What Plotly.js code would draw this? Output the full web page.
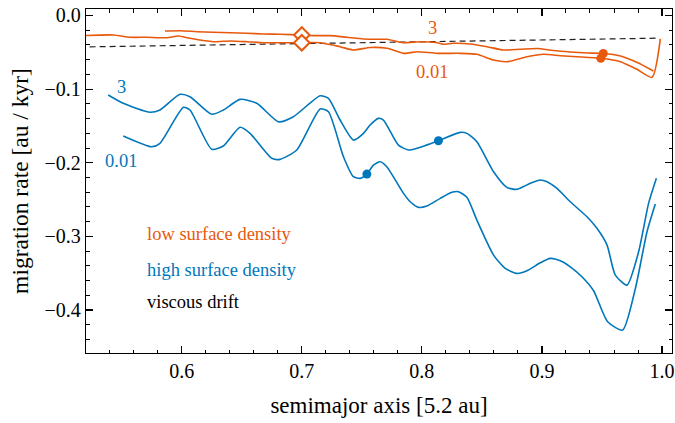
<!DOCTYPE html>
<html>
<head>
<meta charset="utf-8">
<script src="https://cdn.plot.ly/plotly-3.0.1.min.js"></script>
<style>
  html, body { margin: 0; padding: 0; background: #fff; }
  #chart { width: 675px; height: 423px; }
</style>
</head>
<body>
<div id="chart"></div>
<script>
// Planet migration rate versus semimajor axis, two disc models and the viscous drift.

// low surface density, viscosity 3
const lowHighX = [0.5861, 0.5986, 0.6125, 0.6263, 0.6403, 0.6542, 0.6680, 0.6819, 0.7000, 0.7097,
  0.7236, 0.7375, 0.7514, 0.7653, 0.7711, 0.7844, 0.7986, 0.8128, 0.8178, 0.8261, 0.8403, 0.8544,
  0.8678, 0.8819, 0.8961, 0.9094, 0.9236, 0.9378, 0.9511, 0.9653, 0.9794, 0.9928];
const lowHighY = [-0.0211, -0.0207, -0.0220, -0.0228, -0.0234, -0.0242, -0.0251, -0.0255, -0.0265, -0.0274,
  -0.0274, -0.0296, -0.0319, -0.0323, -0.0323, -0.0370, -0.0356, -0.0370, -0.0391, -0.0378, -0.0387, -0.0424,
  -0.0469, -0.0459, -0.0448, -0.0476, -0.0496, -0.0510, -0.0516, -0.0550, -0.0639, -0.0754];

// low surface density, viscosity 0.01
const lowLowX = [0.5150, 0.5431, 0.5569, 0.5708, 0.5875, 0.5972, 0.6069, 0.6263, 0.6403, 0.6542,
  0.6680, 0.6819, 0.7000, 0.7153, 0.7319, 0.7430, 0.7569, 0.7711, 0.7844, 0.7903, 0.7961, 0.8128,
  0.8319, 0.8458, 0.8597, 0.8708, 0.8875, 0.9014, 0.9153, 0.9292, 0.9490, 0.9653, 0.9792, 0.9917, 0.9986];
const lowLowY = [-0.0276, -0.0265, -0.0296, -0.0296, -0.0302, -0.0279, -0.0310, -0.0356, -0.0346, -0.0356,
  -0.0370, -0.0370, -0.0370, -0.0370, -0.0424, -0.0469, -0.0435, -0.0446, -0.0514, -0.0505, -0.0492, -0.0514,
  -0.0514, -0.0527, -0.0605, -0.0628, -0.0560, -0.0527, -0.0546, -0.0560, -0.0582, -0.0628, -0.0731, -0.0840, -0.0319];

// high surface density, viscosity 3
const highHighX = [0.5388, 0.5513, 0.5736, 0.5819, 0.5986, 0.6069, 0.6250, 0.6347, 0.6486, 0.6625,
  0.6805, 0.6930, 0.7153, 0.7222, 0.7319, 0.7430, 0.7514, 0.7569, 0.7638, 0.7680, 0.7805, 0.7888,
  0.7958, 0.8138, 0.8319, 0.8375, 0.8458, 0.8597, 0.8708, 0.8792, 0.8903, 0.8986, 0.9042, 0.9125,
  0.9236, 0.9375, 0.9458, 0.9542, 0.9611, 0.9708, 0.9805, 0.9888, 0.9953];
const highHighY = [-0.1080, -0.1193, -0.1315, -0.1284, -0.1071, -0.1103, -0.1342, -0.1284, -0.1139, -0.1193,
  -0.1443, -0.1375, -0.1090, -0.1125, -0.1420, -0.1692, -0.1601, -0.1488, -0.1397, -0.1420, -0.1760, -0.1827,
  -0.1804, -0.1701, -0.1587, -0.1601, -0.1715, -0.2122, -0.2334, -0.2361, -0.2280, -0.2235, -0.2258, -0.2348,
  -0.2530, -0.2734, -0.2891, -0.3118, -0.3526, -0.3662, -0.3209, -0.2552, -0.2212];

// high surface density, viscosity 0.01
const highLowX = [0.5513, 0.5750, 0.5819, 0.6014, 0.6069, 0.6250, 0.6347, 0.6486, 0.6569, 0.6750,
  0.6819, 0.6958, 0.7153, 0.7222, 0.7347, 0.7430, 0.7486, 0.7542, 0.7597, 0.7653, 0.7708, 0.7847,
  0.7903, 0.7972, 0.8042, 0.8153, 0.8250, 0.8305, 0.8375, 0.8458, 0.8597, 0.8694, 0.8792, 0.8875,
  0.8986, 0.9069, 0.9153, 0.9236, 0.9333, 0.9430, 0.9547, 0.9672, 0.9778, 0.9875, 0.9944];
const highLowY = [-0.1637, -0.1783, -0.1736, -0.1247, -0.1284, -0.1818, -0.1773, -0.1519, -0.1601, -0.1940,
  -0.1954, -0.1827, -0.1270, -0.1307, -0.1918, -0.2190, -0.2212, -0.2154, -0.2031, -0.1986, -0.2054, -0.2416,
  -0.2530, -0.2606, -0.2588, -0.2484, -0.2402, -0.2394, -0.2470, -0.2779, -0.3254, -0.3435, -0.3503, -0.3467,
  -0.3359, -0.3299, -0.3332, -0.3413, -0.3549, -0.3739, -0.4160, -0.4273, -0.3707, -0.2937, -0.2561];

// viscous drift
const driftX = [0.5150, 0.9980];
const driftY = [-0.0428, -0.0308];

// marked positions
const diamondX = [0.7000, 0.7000];
const diamondY = [-0.0265, -0.0370];
const lowDotX = [0.9511, 0.9490];
const lowDotY = [-0.0516, -0.0582];
const highDotX = [0.7542, 0.8138];
const highDotY = [-0.2154, -0.1701];

// curve labels
const labelTexts = ['3', '0.01', '3', '0.01'];
const labelX = [0.8088, 0.8088, 0.5500, 0.5494];
const labelY = [-0.0174, -0.0764, -0.0976, -0.1973];

// key text
const keyTexts = ['low surface density', 'high surface density', 'viscous drift'];
const keyY = [-0.2969, -0.3458, -0.3893];
const keyX = 0.5694;

const xTickVals = [0.6, 0.7, 0.8, 0.9, 1.0];
const xTickText = ['0.6', '0.7', '0.8', '0.9', '1.0'];
const yTickVals = [0.0, -0.1, -0.2, -0.3, -0.4];
const yTickText = ['0.0', '\u22120.1', '\u22120.2', '\u22120.3', '\u22120.4'];

const ORANGE = '#e8590c';
const BLUE = '#0077bb';
const FONT = '"Liberation Serif", "Times New Roman", Times, "DejaVu Serif", serif';

const lineTrace = (x, y, color) => ({
  x, y, type: 'scatter', mode: 'lines',
  line: { color, width: 1.6, shape: 'spline', smoothing: 0.6 },
  hoverinfo: 'skip', showlegend: false, cliponaxis: true
});

const traces = [
  { x: driftX, y: driftY, type: 'scatter', mode: 'lines',
    line: { color: '#222', width: 1.2, dash: '6px,4px' }, showlegend: false },
  lineTrace(lowHighX, lowHighY, ORANGE),
  lineTrace(lowLowX, lowLowY, ORANGE),
  lineTrace(highHighX, highHighY, BLUE),
  lineTrace(highLowX, highLowY, BLUE),
  { x: diamondX, y: diamondY, type: 'scatter', mode: 'markers', showlegend: false,
    marker: { symbol: 'diamond', size: 12, color: '#fff', line: { color: ORANGE, width: 2 } } },
  { x: lowDotX, y: lowDotY, type: 'scatter', mode: 'markers', showlegend: false,
    marker: { symbol: 'circle', size: 9, color: ORANGE } },
  { x: highDotX, y: highDotY, type: 'scatter', mode: 'markers', showlegend: false,
    marker: { symbol: 'circle', size: 9, color: BLUE } }
];

const labelColors = [ORANGE, ORANGE, BLUE, BLUE];
const keyColors = [ORANGE, BLUE, '#000'];

const annotations = labelTexts.map((t, i) => ({
  x: labelX[i], y: labelY[i], xref: 'x', yref: 'y', text: t, showarrow: false,
  xanchor: 'center', yanchor: 'middle', font: { family: FONT, size: 18.5, color: labelColors[i] }
})).concat(keyTexts.map((t, i) => ({
  x: keyX, y: keyY[i], xref: 'x', yref: 'y', text: t, showarrow: false,
  xanchor: 'left', yanchor: 'middle', font: { family: FONT, size: 18.5, color: keyColors[i] }
})));

const axisCommon = {
  showline: true, linecolor: '#000', linewidth: 1.3, mirror: 'ticks',
  ticks: 'inside', ticklen: 7, tickwidth: 1.2, tickcolor: '#000',
  showgrid: false, zeroline: false, ticklabeloverflow: 'allow',
  tickfont: { family: FONT, size: 20, color: '#000' }
};

const layout = {
  width: 675, height: 423,
  margin: { l: 86, r: 3, t: 9, b: 70 },
  paper_bgcolor: '#fff', plot_bgcolor: '#fff',
  font: { family: FONT, color: '#000' },
  showlegend: false,
  xaxis: Object.assign({}, axisCommon, {
    range: [0.5203, 1.0083],
    tickmode: 'array', tickvals: xTickVals, ticktext: xTickText,
    minor: { dtick: 0.02, tick0: 0, ticks: 'inside', ticklen: 3.5, tickwidth: 1, tickcolor: '#000' },
    title: { text: 'semimajor axis [5.2 au]', font: { family: FONT, size: 23 }, standoff: 15 }
  }),
  yaxis: Object.assign({}, axisCommon, {
    range: [-0.4584, 0.0088],
    tickmode: 'array', tickvals: yTickVals, ticktext: yTickText,
    minor: { dtick: 0.02, tick0: 0, ticks: 'inside', ticklen: 3.5, tickwidth: 1, tickcolor: '#000' },
    title: { text: 'migration rate [au / kyr]', font: { family: FONT, size: 23.5 }, standoff: 9 }
  }),
  annotations
};

Plotly.newPlot('chart', traces, layout, { displayModeBar: false, staticPlot: true });
</script>
</body>
</html>
